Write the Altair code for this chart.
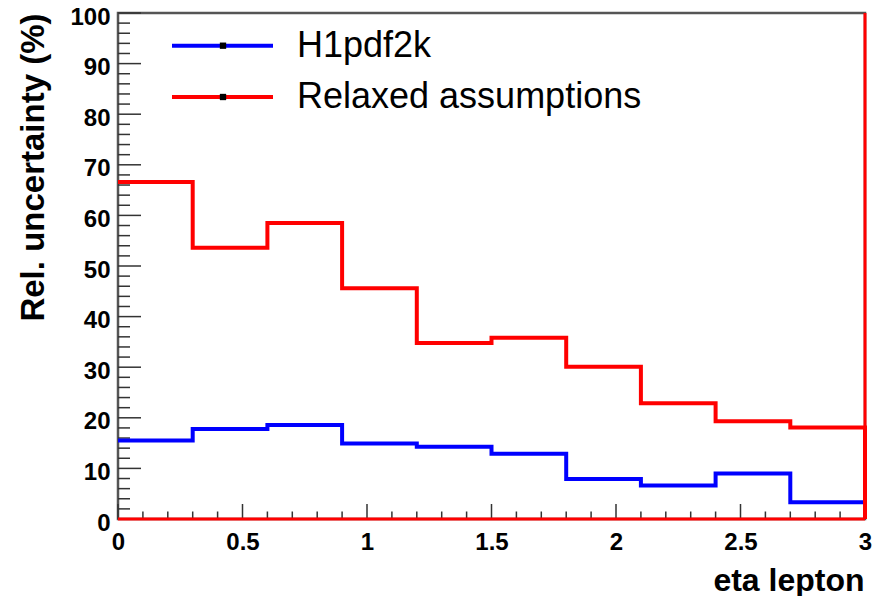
import altair as alt
import pandas as pd

# ---- data ----
edges = [0.0, 0.3, 0.6, 0.9, 1.2, 1.5, 1.8, 2.1, 2.4, 2.7, 3.0]
h1pdf2k = [15.5, 17.8, 18.6, 14.9, 14.3, 12.9, 7.9, 6.6, 9.0, 3.3]
relaxed = [66.6, 53.6, 58.5, 45.6, 34.8, 35.8, 30.1, 22.9, 19.3, 18.1]
series_names = ["H1pdf2k", "Relaxed assumptions"]
series_colors = ["#0000ff", "#ff0000"]

x_major = [0, 0.5, 1, 1.5, 2, 2.5, 3]
x_minor = [round(i * 0.1, 1) for i in range(31) if i % 5 != 0]
y_major = list(range(0, 101, 10))
y_minor = [v for v in range(0, 101, 2) if v % 10 != 0]

W, H = 747, 506
FONT = "Liberation Sans"

xs = alt.Scale(domain=[0, 3], nice=False, zero=False)
ys = alt.Scale(domain=[0, 100], nice=False)

xax = alt.Axis(
    values=x_major, format="~g", ticks=False, domain=False, grid=False,
    labelFont=FONT, labelFontWeight="bold", labelFontSize=24, labelColor="black",
    labelPadding=11, labelFlush=False,
    title="eta lepton", titleFont=FONT, titleFontWeight="bold", titleFontSize=32,
    titleColor="black", titleAlign="right", titleAnchor="end", titleX=W - 1, titleY=71,
    titleBaseline="alphabetic")
yax = alt.Axis(
    values=y_major, format="d", ticks=False, domain=False, grid=False,
    labelFont=FONT, labelFontWeight="bold", labelFontSize=24, labelColor="black",
    labelPadding=8, labelFlush=False, labelOffset=4,
    title="Rel. uncertainty (%)", titleFont=FONT, titleFontWeight="bold",
    titleFontSize=33, titleColor="black", titleAngle=270, titleAlign="right",
    titleX=-75, titleY=0, titleBaseline="alphabetic")


def X(f="x"):
    return alt.X(f + ":Q", scale=xs, axis=xax)


def Y(f="y"):
    return alt.Y(f + ":Q", scale=ys, axis=yax)


def step_rows(vals, close):
    rows = []
    k = 0
    for i, v in enumerate(vals):
        rows.append({"x": edges[i], "y": v, "o": k}); k += 1
        rows.append({"x": edges[i + 1], "y": v, "o": k}); k += 1
    if close:
        rows.append({"x": edges[-1], "y": 0, "o": k})
    return pd.DataFrame(rows)


blue_df = step_rows(h1pdf2k, False)
red_df = step_rows(relaxed, True)

tick_color = "#333333"
ymaj = alt.Chart(pd.DataFrame({"y": y_major})).mark_rule(color=tick_color, strokeWidth=1.5).encode(
    y=Y(), x=alt.value(0), x2=alt.value(23))
ymin = alt.Chart(pd.DataFrame({"y": y_minor})).mark_rule(color=tick_color, strokeWidth=1.5).encode(
    y=Y(), x=alt.value(0), x2=alt.value(12))
xmaj = alt.Chart(pd.DataFrame({"x": x_major})).mark_rule(color=tick_color, strokeWidth=1.5).encode(
    x=X(), y=alt.value(H), y2=alt.value(H - 15))
xmin = alt.Chart(pd.DataFrame({"x": x_minor})).mark_rule(color=tick_color, strokeWidth=1.5).encode(
    x=X(), y=alt.value(H), y2=alt.value(H - 7.5))

blue = alt.Chart(blue_df).mark_line(color=series_colors[0], strokeWidth=4).encode(
    x=X(), y=Y(), order="o:Q")
red = alt.Chart(red_df).mark_line(color=series_colors[1], strokeWidth=4).encode(
    x=X(), y=Y(), order="o:Q")

# red outline along the bottom and the right edge
red_bottom = alt.Chart(pd.DataFrame({"x": [edges[0]], "x2": [edges[-1]], "y": [0]})).mark_rule(
    color=series_colors[1], strokeWidth=3).encode(x=X(), x2="x2:Q", y=Y())
red_right = alt.Chart(pd.DataFrame({"x": [edges[-1]], "y": [0], "y2": [100]})).mark_rule(
    color=series_colors[1], strokeWidth=3).encode(x=X(), y=Y(), y2="y2:Q")

# manual legend (layout in pixels)
legend_layers = []
leg_y = [32.7, 84.0]
for name, col, ly in zip(series_names, series_colors, leg_y):
    d = pd.DataFrame({"label": [name]})
    legend_layers.append(alt.Chart(d).mark_rule(color=col, strokeWidth=4).encode(
        x=alt.value(54), x2=alt.value(155), y=alt.value(ly)))
    legend_layers.append(alt.Chart(d).mark_square(color="black", opacity=1, size=40).encode(
        x=alt.value(105), y=alt.value(ly)))
    legend_layers.append(alt.Chart(d).mark_text(
        align="left", baseline="middle", font=FONT, fontSize=36, color="black").encode(
        x=alt.value(179), y=alt.value(ly), text="label:N"))

chart = alt.layer(ymaj, ymin, xmaj, xmin, red_bottom, blue, red, red_right, *legend_layers).properties(
    width=W, height=H,
    autosize=alt.AutoSizeParams(type="none"),
    padding={"left": 110, "top": 5, "right": 8, "bottom": 77},
    background="white",
).configure_view(stroke="#555555", strokeWidth=2.5)

chart.save("out.html", embed_options={"renderer": "svg", "actions": False})
